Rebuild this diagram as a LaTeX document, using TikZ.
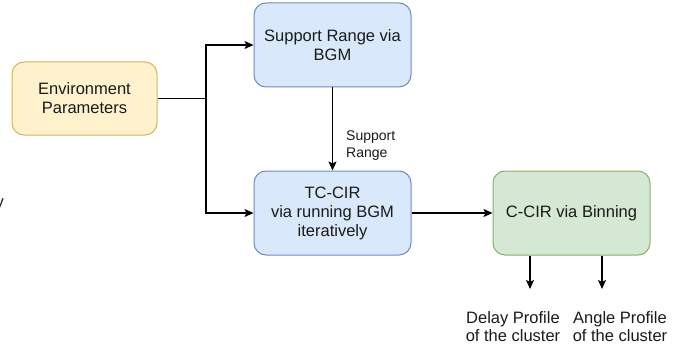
\documentclass[tikz,border=0pt]{standalone}
\usepackage{fontspec}
\setmainfont{Liberation Sans}
\usetikzlibrary{arrows.meta}
\definecolor{bfill}{HTML}{DAE8FC}
\definecolor{bdraw}{HTML}{6C8EBF}
\definecolor{yfill}{HTML}{FFF2CC}
\definecolor{ydraw}{HTML}{D6B656}
\definecolor{gfill}{HTML}{D5E8D4}
\definecolor{gdraw}{HTML}{82B366}
\definecolor{ink}{HTML}{1A1A1A}
\begin{document}
\begin{tikzpicture}[x=1pt,y=-1pt,
  box/.style={rounded corners=12pt, line width=1pt, align=center, inner sep=2pt,
    font=\fontsize{16.5}{19}\selectfont, text=ink},
  bluebox/.style={box, fill=bfill, draw=bdraw, minimum width=157pt, minimum height=84pt},
  conn/.style={line width=1.3pt, draw=black},
  arr/.style={conn, -{Stealth[length=9pt,width=8pt,inset=2pt]}},
  lbl/.style={font=\fontsize{16.5}{18}\selectfont, align=center, text=ink, inner sep=0pt},
  small/.style={font=\fontsize{14}{17}\selectfont, align=left, text=ink, inner sep=0pt}
]
\useasboundingbox (0,0) rectangle (694,353);
\node[box, fill=yfill, draw=ydraw, minimum width=145pt, minimum height=73pt] (env) at (84.5,98.5) {Environment\\Parameters};
\node[bluebox] (sup) at (332.5,45) {Support Range via\\BGM};
\node[bluebox] (tc) at (332.5,213) {TC-CIR\\via running BGM\\iteratively};
\node[box, fill=gfill, draw=gdraw, minimum width=157pt, minimum height=84pt] (cc) at (571.5,213) {C-CIR via Binning};
\coordinate (j) at (206,98.5);
\draw[conn] (env.east) -- (j);
\draw[arr] (j) |- (sup.west);
\draw[arr] (j) |- (tc.west);
\draw[arr] (sup.south) -- (tc.north);
\node[small, anchor=west] (sr) at (346,146) {Support\\Range};
\draw[arr] (tc.east) -- (cc.west);
\coordinate (d1) at (530,289);
\coordinate (d2) at (602,289);
\draw[arr] (cc.south -| d1) -- (d1);
\draw[arr] (cc.south -| d2) -- (d2);
\node[lbl] (dl) at (513,327) {Delay Profile\\of the cluster};
\node[lbl] (al) at (620,327) {Angle Profile\\of the cluster};
\node[lbl, anchor=east] (yy) at (4,205) {y};
\end{tikzpicture}
\end{document}
